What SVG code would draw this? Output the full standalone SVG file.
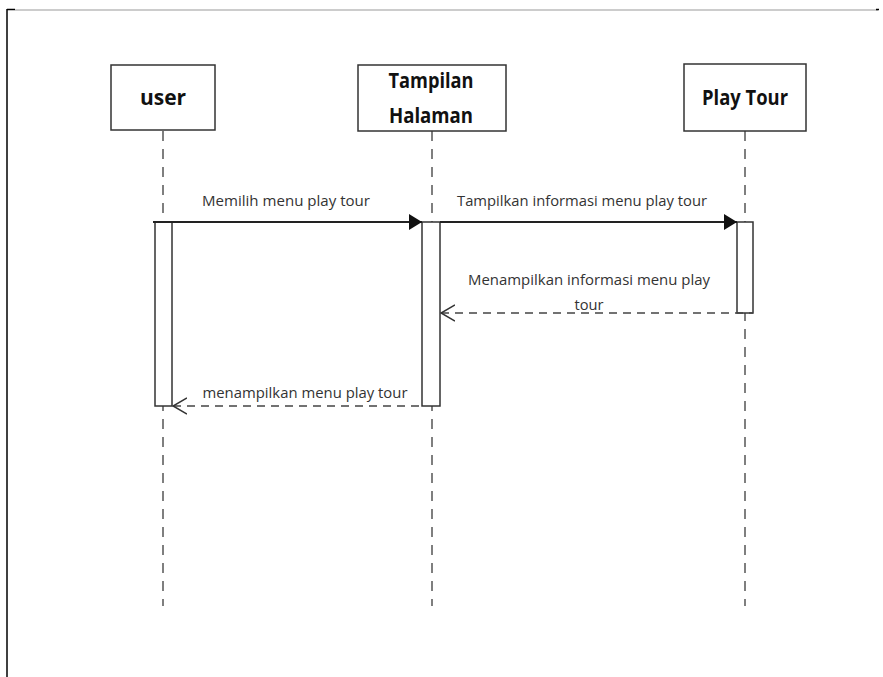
<svg xmlns="http://www.w3.org/2000/svg" width="883" height="677" viewBox="0 0 883 677">
<style>
.box{fill:#fff;stroke:#333;stroke-width:1.5}
.act{fill:#fff;stroke:#333;stroke-width:1.5}
.life{stroke:#555;stroke-width:1.5;stroke-dasharray:10 8;fill:none}
.msg{stroke:#222;stroke-width:1.8;fill:none}
.ret{stroke:#444;stroke-width:1.5;stroke-dasharray:8 6;fill:none}
.title{font-family:"Open Sans","Noto Sans",sans-serif;font-weight:bold;font-size:21px;fill:#111;text-anchor:middle}
.lbl{font-family:"Open Sans","Noto Sans",sans-serif;font-size:14px;fill:#333;text-anchor:middle}
</style>
<defs>
<marker id="filled" viewBox="0 0 13 16" refX="13" refY="8" markerWidth="13" markerHeight="16" markerUnits="userSpaceOnUse" orient="auto">
<path d="M0,0 L13,8 L0,16 Z" fill="#111"/>
</marker>
<marker id="open" viewBox="0 0 15 18" refX="1" refY="9" markerWidth="15" markerHeight="18" markerUnits="userSpaceOnUse" orient="auto">
<path d="M15,1 L1,9 L15,17" fill="none" stroke="#333" stroke-width="1.5"/>
</marker>
</defs>
<rect x="0" y="0" width="883" height="677" fill="#fff"/>
<g id="frame">
<line x1="15" y1="10" x2="878" y2="10" stroke="#ccc" stroke-width="2"/>
<line x1="7" y1="9.5" x2="15" y2="9.5" stroke="#000" stroke-width="1.5"/>
<line x1="7" y1="9" x2="7" y2="677" stroke="#000" stroke-width="1.5"/>
<line x1="876" y1="9.5" x2="879" y2="9.5" stroke="#000" stroke-width="1.5"/>
</g>
<g id="lifelines">
<line class="life" x1="163" y1="131" x2="163" y2="606"/>
<line class="life" x1="432" y1="131" x2="432" y2="606"/>
<line class="life" x1="745" y1="131" x2="745" y2="606"/>
</g>
<g id="user">
<rect class="box" x="111" y="65" width="104" height="65"/>
<text class="title" x="163" y="105">user</text>
</g>
<g id="tampilan-halaman">
<rect class="box" x="358" y="65" width="148" height="66"/>
<text class="title" x="431" y="88" textLength="85" lengthAdjust="spacingAndGlyphs">Tampilan</text>
<text class="title" x="431" y="123" textLength="84" lengthAdjust="spacingAndGlyphs">Halaman</text>
</g>
<g id="play-tour">
<rect class="box" x="684" y="64" width="122" height="67"/>
<text class="title" x="745" y="105" textLength="86" lengthAdjust="spacingAndGlyphs">Play Tour</text>
</g>
<g id="activations">
<rect class="act" x="155" y="222" width="17" height="184"/>
<rect class="act" x="422" y="222" width="18" height="184"/>
<rect class="act" x="737" y="222" width="16" height="91"/>
</g>
<g id="connectors">
<line class="msg" x1="153" y1="222" x2="422" y2="222" marker-end="url(#filled)"/>
<line class="msg" x1="440" y1="222" x2="737" y2="222" marker-end="url(#filled)"/>
<line class="ret" x1="441" y1="313" x2="753" y2="313" marker-start="url(#open)"/>
<line class="ret" x1="173" y1="406" x2="422" y2="406" marker-start="url(#open)"/>
</g>
<g id="labels">
<text class="lbl" x="286" y="206" textLength="168" lengthAdjust="spacingAndGlyphs">Memilih menu play tour</text>
<text class="lbl" x="582" y="206" textLength="250" lengthAdjust="spacingAndGlyphs">Tampilkan informasi menu play tour</text>
<text class="lbl" x="589" y="285" textLength="242" lengthAdjust="spacingAndGlyphs">Menampilkan informasi menu play</text>
<text class="lbl" x="589" y="310" textLength="29" lengthAdjust="spacingAndGlyphs">tour</text>
<text class="lbl" x="305" y="398" textLength="205" lengthAdjust="spacingAndGlyphs">menampilkan menu play tour</text>
</g>
</svg>
